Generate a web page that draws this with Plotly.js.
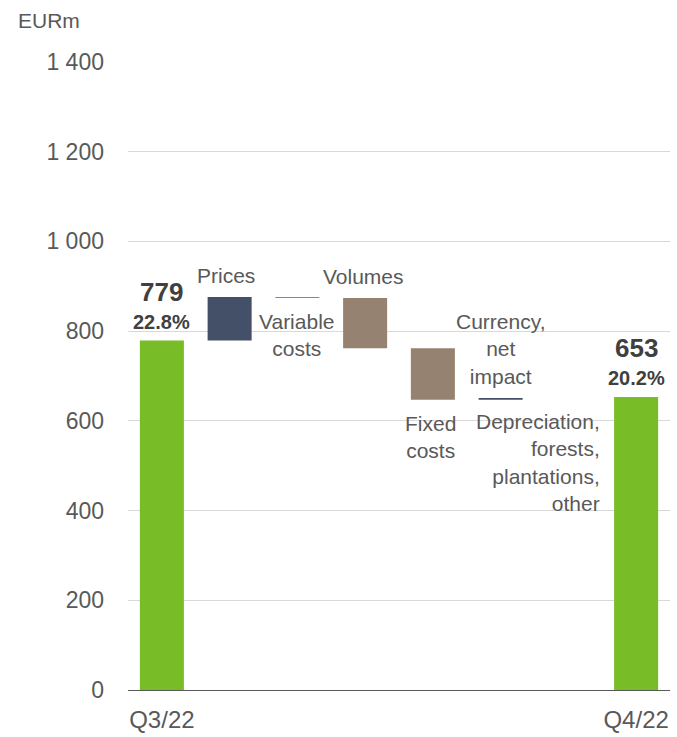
<!DOCTYPE html>
<html>
<head>
<meta charset="utf-8">
<script src="https://cdn.plot.ly/plotly-3.0.1.min.js"></script>
<style>html,body{margin:0;padding:0;background:#fff;}#chart{width:677px;height:737px;}</style>
</head>
<body>
<div id="chart"></div>
<script>
// ---- data ----
var categories = ["Q3/22", "Prices", "Variable costs", "Volumes", "Fixed costs", "Currency, net impact", "Depreciation, forests, plantations, other", "Q4/22"];
var stepLabels = ["", "Prices", "Variable<br>costs", "Volumes", "Fixed<br>costs", "Currency,<br>net<br>impact", "Depreciation,<br>forests,<br>plantations,<br>other", ""];
var startValue = 779;
var endValue = 653;
var deltas = [97, -2, -112, -115, 4, 0];
var startMargin = "22.8%";
var endMargin = "20.2%";
var xTickLabels = ["Q3/22", "Q4/22"];

// ---- build ----
var green = "#78BC27", blue = "#435068", brown = "#968270";
var txt = "#595959";
var incX = [], incY = [], incB = [], decX = [], decY = [], decB = [];
var tops = [], bottoms = [];
var level = startValue;
for (var i = 0; i < deltas.length; i++) {
  var cat = categories[i + 1];
  var d = deltas[i];
  var nl = level + d;
  if (d >= 0) { incX.push(cat); incY.push(d); incB.push(level); }
  else { decX.push(cat); decY.push(-d); decB.push(nl); }
  tops.push(Math.max(level, nl)); bottoms.push(Math.min(level, nl));
  level = nl;
}

var traces = [
  {type: "bar", x: [categories[0], categories[7]], y: [startValue, endValue], marker: {color: green}, width: 0.65, hoverinfo: "none"},
  {type: "bar", x: incX, y: incY, base: incB, marker: {color: blue}, width: 0.65, hoverinfo: "none"},
  {type: "bar", x: decX, y: decY, base: decB, marker: {color: brown}, width: 0.65, hoverinfo: "none"}
];

var F = "Arial, 'Liberation Sans', sans-serif";
var ann = [];
function A(x, y, text, opts) {
  var a = {x: x, y: y, xref: "x", yref: "y", text: text, showarrow: false,
    font: {family: F, size: 21, color: txt}, xanchor: "center"};
  for (var k in opts) a[k] = opts[k];
  ann.push(a);
}
// step labels: above or below each step
var placement = ["above", "below", "above", "below", "above", "belowRight"];
var xShifts = [-4, 0, -2, -2, 0, 34];
for (var j = 0; j < deltas.length; j++) {
  var c = categories[j + 1], lab = stepLabels[j + 1];
  if (placement[j] === "above") A(c, tops[j], lab, {yanchor: "bottom", yshift: 8, xshift: xShifts[j]});
  else if (placement[j] === "below") A(c, bottoms[j], lab, {yanchor: "top", yshift: -10, xshift: xShifts[j]});
  else A(c, bottoms[j], lab, {yanchor: "top", yshift: -10, xanchor: "right", align: "right", xshift: xShifts[j]});
}
// totals
A(categories[0], startValue, "<b>" + startMargin + "</b>", {yanchor: "bottom", yshift: 6, font: {family: F, size: 20, color: "#404040"}});
A(categories[0], startValue, "<b>" + startValue + "</b>", {yanchor: "bottom", yshift: 32, font: {family: F, size: 26, color: "#404040"}});
A(categories[7], endValue, "<b>" + endMargin + "</b>", {yanchor: "bottom", yshift: 6, font: {family: F, size: 20, color: "#404040"}});
A(categories[7], endValue, "<b>" + endValue + "</b>", {yanchor: "bottom", yshift: 32, font: {family: F, size: 26, color: "#404040"}});
// unit
ann.push({xref: "paper", yref: "paper", x: -128/542, y: 1, yshift: 42, xshift: 16, xanchor: "left", yanchor: "middle",
  text: "EURm", showarrow: false, font: {family: F, size: 21, color: txt}});

var layout = {
  width: 677, height: 737,
  margin: {l: 128, r: 7, t: 62, b: 47, pad: 0},
  paper_bgcolor: "#fff", plot_bgcolor: "#fff",
  showlegend: false, barmode: "overlay",
  separators: ". ",
  font: {family: F, color: txt},
  xaxis: {type: "category", categoryorder: "array", categoryarray: categories, range: [-0.5, 7.5],
    tickvals: [categories[0], categories[7]], ticktext: xTickLabels,
    showline: true, linecolor: "#595959", linewidth: 1, showgrid: false, zeroline: false,
    ticks: "", ticklabelstandoff: 8, tickfont: {family: F, size: 24, color: txt}},
  yaxis: {range: [0, 1400], dtick: 200, tick0: 0, separatethousands: true,
    showgrid: true, gridcolor: "#d9d9d9", gridwidth: 1, zeroline: false, showline: false,
    ticks: "", ticklabelstandoff: 23, tickfont: {family: F, size: 23, color: txt}},
  annotations: ann
};
Plotly.newPlot("chart", traces, layout, {staticPlot: true, displayModeBar: false});
</script>
</body>
</html>
